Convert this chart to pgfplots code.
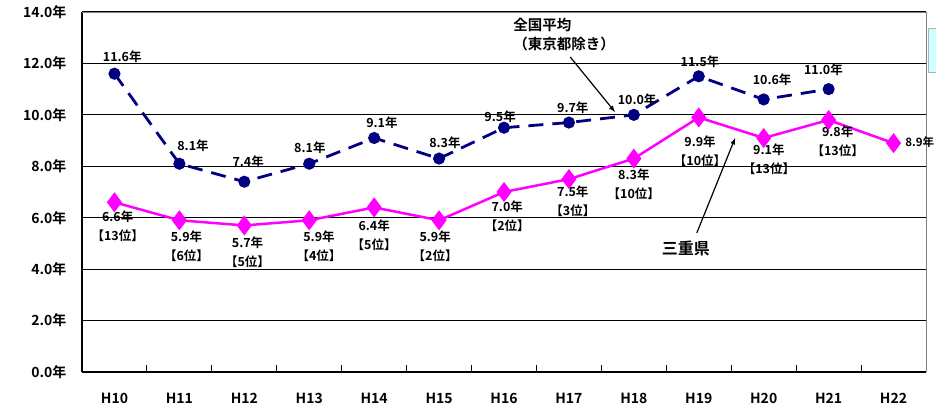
\documentclass[border=0pt]{standalone}
\usepackage{pgfplots}
\pgfplotsset{compat=1.18}
\usepackage{fontspec}
\setmainfont{Noto Sans CJK JP}[BoldFont={Noto Sans CJK JP Bold}]
\definecolor{navy}{RGB}{0,0,128}
\definecolor{mag}{RGB}{255,0,255}
\definecolor{lcyan}{RGB}{204,255,255}
\begin{document}
\begin{tikzpicture}[x=1pt,y=1pt]
\path[use as bounding box] (-82,-38) rectangle (854,372);
\begin{axis}[
  at={(0,0)}, anchor=south west,
  scale only axis, width=844pt, height=360pt,
  xmin=-0.5, xmax=12.5, ymin=0, ymax=14,
  xtick={0,...,12},
  xticklabels={H10,H11,H12,H13,H14,H15,H16,H17,H18,H19,H20,H21,H22},
  minor xtick={0.5,1.5,...,12.5},
  major tick length=0pt, minor tick length=7pt,
  tick align=inside, tick pos=bottom,
  minor tick style={black, line width=1pt},
  ytick={0,2,...,14},
  yticklabels={0.0年,2.0年,4.0年,6.0年,8.0年,10.0年,12.0年,14.0年},
  ymajorgrids, grid style={black, line width=1.2pt},
  axis lines*=left,
  axis line style={black, line width=1.5pt},
  xticklabel style={font=\fontsize{14}{16}\selectfont\bfseries, yshift=-18pt},
  yticklabel style={font=\fontsize{14}{16}\selectfont\bfseries, xshift=-12pt},
  clip=false,
]
\draw[gray, line width=0.8pt] (rel axis cs:0,1) -- (rel axis cs:1,1) -- (rel axis cs:1,0);
\fill[lcyan] (axis cs:12.53,13.38) rectangle (axis cs:13.2,11.67);
\draw[gray!60] (axis cs:13.2,13.38) -- (axis cs:12.53,13.38) -- (axis cs:12.53,11.67) -- (axis cs:13.2,11.67);

\addplot[navy, line width=2.8pt, dash pattern=on 15pt off 9pt, mark=*, mark size=4.6pt, mark options={solid}]
 coordinates {(0,11.6)(1,8.1)(2,7.4)(3,8.1)(4,9.1)(5,8.3)(6,9.5)(7,9.7)(8,10.0)(9,11.5)(10,10.6)(11,11.0)};
\addplot[mag, line width=2.5pt, mark=diamond*, mark size=8pt]
 coordinates {(0,6.6)(1,5.9)(2,5.7)(3,5.9)(4,6.4)(5,5.9)(6,7.0)(7,7.5)(8,8.3)(9,9.9)(10,9.1)(11,9.8)(12,8.9)};

\begin{scope}[every node/.style={font=\fontsize{12.5}{19}\selectfont\bfseries, align=center, inner sep=0pt}]
\node at (axis cs:0.12,12.25) {11.6年};
\node at (axis cs:1.21,8.79) {8.1年};
\node at (axis cs:2.06,8.17) {7.4年};
\node at (axis cs:3.01,8.71) {8.1年};
\node at (axis cs:4.12,9.68) {9.1年};
\node at (axis cs:5.09,8.91) {8.3年};
\node at (axis cs:5.94,9.92) {9.5年};
\node at (axis cs:7.06,10.27) {9.7年};
\node at (axis cs:8.05,10.58) {10.0年};
\node at (axis cs:9.02,12.06) {11.5年};
\node at (axis cs:10.13,11.36) {10.6年};
\node at (axis cs:10.92,11.74) {11.0年};

\node at (axis cs:0.05,5.68) {6.6年\\【13位】};
\node at (axis cs:1.11,4.88) {5.9年\\【6位】};
\node at (axis cs:2.05,4.67) {5.7年\\【5位】};
\node at (axis cs:3.15,4.88) {5.9年\\【4位】};
\node at (axis cs:4.0,5.31) {6.4年\\【5位】};
\node at (axis cs:4.94,4.88) {5.9年\\【2位】};
\node at (axis cs:6.05,6.05) {7.0年\\【2位】};
\node at (axis cs:7.06,6.63) {7.5年\\【3位】};
\node at (axis cs:8.0,7.29) {8.3年\\【10位】};
\node at (axis cs:9.02,8.59) {9.9年\\【10位】};
\node at (axis cs:10.08,8.26) {9.1年\\【13位】};
\node at (axis cs:11.14,8.96) {9.8年\\【13位】};
\node[anchor=west, font=\fontsize{11.5}{13}\selectfont\bfseries] at (axis cs:12.18,8.94) {8.9年};
\end{scope}

\node[anchor=north west, align=left, inner sep=0pt, font=\fontsize{14.5}{19}\selectfont\bfseries] at (axis cs:6.14,13.77) {全国平均\\（東京都除き）};
\draw[-latex, line width=1.2pt] (axis cs:7.02,12.25) -- (axis cs:7.71,10.11);
\node[font=\fontsize{16}{18}\selectfont\bfseries, inner sep=0pt] at (axis cs:8.80,4.82) {三重県};
\draw[-latex, line width=1.2pt] (axis cs:8.97,5.41) -- (axis cs:9.56,9.10);
\end{axis}
\end{tikzpicture}
\end{document}
